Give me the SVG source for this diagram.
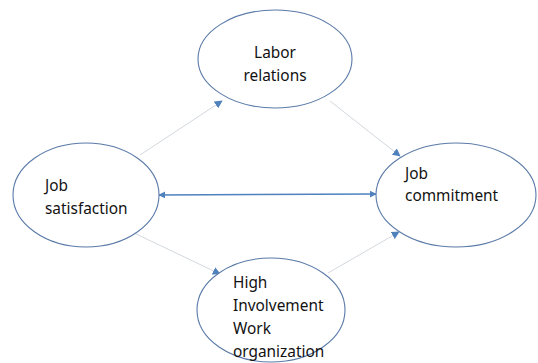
<svg xmlns="http://www.w3.org/2000/svg" width="538" height="363" viewBox="0 0 538 363">
  <defs>
    <marker id="arrowBlue" viewBox="0 0 10 10" refX="9" refY="5" markerWidth="7" markerHeight="7" markerUnits="userSpaceOnUse" orient="auto-start-reverse">
      <path d="M0,0 L10,5 L0,10 z" fill="#4f81bd"/>
    </marker>
    <marker id="arrowSmall" viewBox="0 0 10 10" refX="9" refY="5" markerWidth="8" markerHeight="8" markerUnits="userSpaceOnUse" orient="auto">
      <path d="M0,0 L10,5 L0,10 z" fill="#4f81bd"/>
    </marker>
  </defs>
  <style>
    .node ellipse { fill: #ffffff; stroke: #5a7aa8; stroke-width: 1.1; }
    .node text { font-family: "Noto Sans", "Liberation Sans", sans-serif; font-size: 15.4px; fill: #111111; }
    .thin { stroke: #d3d8de; stroke-width: 1; fill: none; marker-end: url(#arrowSmall); }
    .main { stroke: #4f81bd; stroke-width: 1.5; fill: none; marker-start: url(#arrowBlue); marker-end: url(#arrowBlue); }
  </style>
  <rect width="538" height="363" fill="#ffffff"/>

  <g id="connectors">
    <line class="thin" x1="140" y1="155" x2="222" y2="101"/>
    <line class="thin" x1="330" y1="101" x2="400" y2="156"/>
    <line class="thin" x1="132" y1="232" x2="220" y2="274"/>
    <line class="thin" x1="328" y1="273" x2="399" y2="232"/>
    <line class="main" x1="159" y1="195" x2="376" y2="194"/>
  </g>

  <g id="labor-relations" class="node">
    <ellipse cx="275" cy="59" rx="77" ry="49"/>
    <text x="275" y="58" text-anchor="middle">Labor</text>
    <text x="275" y="81" text-anchor="middle">relations</text>
  </g>

  <g id="job-satisfaction" class="node">
    <ellipse cx="86" cy="195" rx="73" ry="52"/>
    <text x="45" y="191">Job</text>
    <text x="45" y="214">satisfaction</text>
  </g>

  <g id="job-commitment" class="node">
    <ellipse cx="456" cy="195" rx="80" ry="52"/>
    <text x="405" y="179">Job</text>
    <text x="405" y="201">commitment</text>
  </g>

  <g id="high-involvement" class="node">
    <ellipse cx="271" cy="310" rx="74" ry="52"/>
    <text x="233" y="288">High</text>
    <text x="233" y="311">Involvement</text>
    <text x="233" y="334">Work</text>
    <text x="233" y="357">organization</text>
  </g>
</svg>
